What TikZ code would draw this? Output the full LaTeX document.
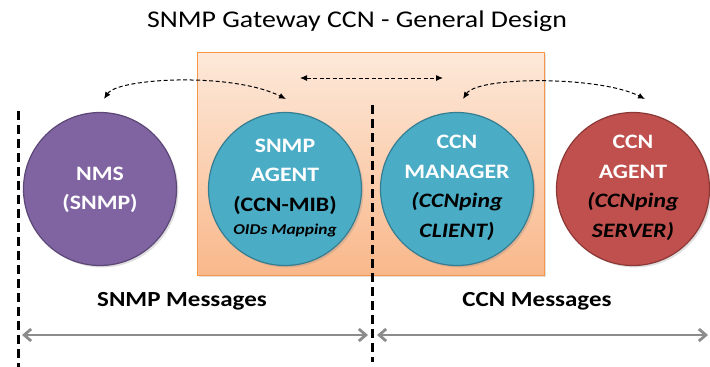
\documentclass[tikz,border=0pt]{standalone}
\usepackage{fontspec}
\setmainfont{Carlito}[FakeStretch=1.16]
\usetikzlibrary{arrows.meta,shadows}
\definecolor{purp}{HTML}{8064A2}
\definecolor{purpd}{HTML}{5C4776}
\definecolor{teal}{HTML}{4BACC6}
\definecolor{teald}{HTML}{357D91}
\definecolor{redc}{HTML}{C0504D}
\definecolor{redd}{HTML}{8C3836}
\definecolor{boxtop}{HTML}{FDE9DA}
\definecolor{boxbot}{HTML}{F9B88B}
\definecolor{boxline}{HTML}{F79646}
\definecolor{msggray}{HTML}{8C8C8C}
\newcommand\circfont{\fontsize{20.5}{29.5}\selectfont\bfseries}
\begin{document}
\begin{tikzpicture}[x=1pt,y=-1pt,
  agent/.style={circle, minimum size=153pt, inner sep=0pt, line width=1.2pt,
    drop shadow={opacity=0.25, shadow xshift=2pt, shadow yshift=-2pt}},
  ctext/.style={align=center, font=\circfont, inner sep=0pt},
  gatebox/.style={draw=boxline, line width=0.8pt, minimum width=347pt, minimum height=223pt,
    top color=boxtop, bottom color=boxbot, inner sep=0pt,
    drop shadow={opacity=0.25, shadow xshift=2pt, shadow yshift=-2pt}},
  dcurve/.style={line width=1pt, dash pattern=on 4pt off 2.5pt, {Latex[length=7pt,width=6pt]}-{Latex[length=7pt,width=6pt]}},
  sep/.style={line width=3pt, dash pattern=on 9pt off 5pt},
  msg/.style={msggray, line width=2.8pt, {Straight Barb[length=7pt,width=12pt]}-{Straight Barb[length=7pt,width=12pt]}},
  msglabel/.style={font=\fontsize{21.5}{24}\selectfont\bfseries, inner sep=0pt}
]
\useasboundingbox (0,0) rectangle (710,367);

\node[font=\fontsize{24}{28}\selectfont, inner sep=0pt] (title) at (357,21) {SNMP Gateway CCN - General Design};

\node[gatebox] (gw) at (370.5,163.5) {};

\node[agent, fill=purp, draw=purpd] (nms) at (100,189) {};
\node[agent, fill=teal, draw=teald] (snmp) at (285,189) {};
\node[agent, fill=teal, draw=teald] (mgr) at (457,189) {};
\node[agent, fill=redc, draw=redd] (ccn) at (633,189) {};

\node[ctext, text=white] (nmst) at (100,190) {NMS\\(SNMP)};
\node[ctext] (snmpt) at (285,188) {\textcolor{white}{SNMP}\\\textcolor{white}{AGENT}\\(CCN-MIB)\\[-6pt]{\fontsize{15}{17}\selectfont\itshape OIDs Mapping}};
\node[ctext] (mgrt) at (457,188) {\textcolor{white}{CCN}\\\textcolor{white}{MANAGER}\\\itshape(CCNping\\\itshape CLIENT)};
\node[ctext] (ccnt) at (633,188) {\textcolor{white}{CCN}\\\textcolor{white}{AGENT}\\\itshape(CCNping\\\itshape SERVER)};

% dashed interaction arrows
\coordinate (a1) at (104,99);
\coordinate (a2) at (286,99);
\coordinate (b1) at (300,78);
\coordinate (b2) at (443,78);
\coordinate (c1) at (463,99);
\coordinate (c2) at (645,99);
\draw[dcurve] (a1) .. controls (118,78) and (232,72) .. (a2);
\draw[dcurve] (b1) -- (b2);
\draw[dcurve] (c1) .. controls (478,76) and (600,76) .. (c2);

% separators
\coordinate (s1t) at (18,111);
\coordinate (s1b) at (18,367);
\coordinate (s2t) at (372,105);
\coordinate (s2b) at (372,362);
\draw[sep] (s1t) -- (s1b);
\draw[sep] (s2t) -- (s2b);

% message ranges
\coordinate (m1l) at (22,335);
\coordinate (m1r) at (368,335);
\coordinate (m2l) at (377,335);
\coordinate (m2r) at (708,335);
\draw[msg] (m1l) -- (m1r);
\draw[msg] (m2l) -- (m2r);
\node[msglabel] (snmpmsg) at (182,301) {SNMP Messages};
\node[msglabel] (ccnmsg) at (537,301) {CCN Messages};
\end{tikzpicture}
\end{document}
